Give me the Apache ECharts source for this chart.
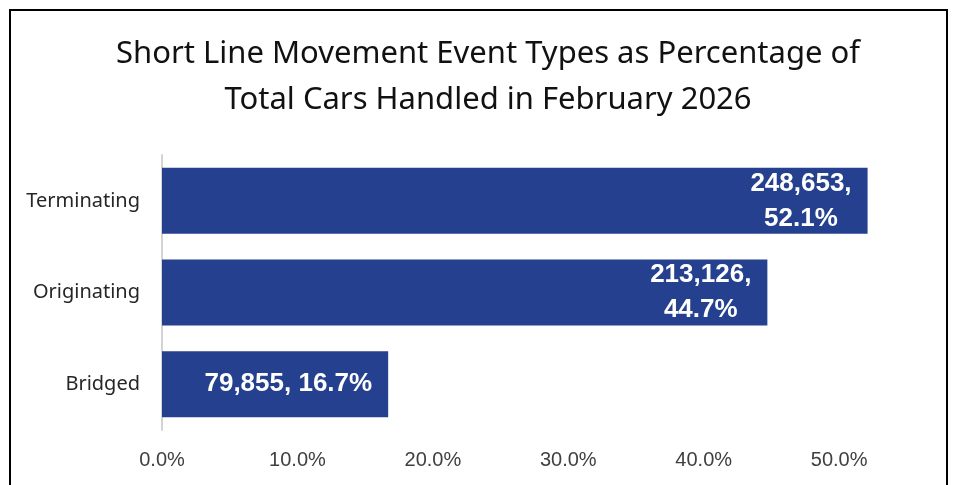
<!DOCTYPE html>
<html>
<head>
<meta charset="utf-8">
<script src="https://cdn.jsdelivr.net/npm/echarts@6/dist/echarts.min.js"></script>
<style>
html,body{margin:0;padding:0;background:#fff;}
#chart{width:956px;height:485px;}
</style>
</head>
<body>
<div id="chart"></div>
<script>
const categories = ['Terminating', 'Originating', 'Bridged'];
const carCounts = [248653, 213126, 79855];
const percentages = [0.521, 0.447, 0.167];
const tickLabels = ['0.0%', '10.0%', '20.0%', '30.0%', '40.0%', '50.0%'];
const titleText = 'Short Line Movement Event Types as Percentage of\nTotal Cars Handled in February 2026';

const chart = echarts.init(document.getElementById('chart'));
const fmtCount = n => n.toLocaleString('en-US');
const fmtPct = p => (p * 100).toFixed(1) + '%';

chart.setOption({
  animation: false,
  backgroundColor: '#ffffff',
  graphic: [{
    type: 'rect',
    shape: { x: 10, y: 10, width: 937, height: 500 },
    style: { fill: 'none', stroke: '#000000', lineWidth: 2 },
    silent: true
  }, {
    type: 'text',
    x: 488,
    y: 31,
    silent: true,
    style: {
      text: titleText,
      align: 'center',
      verticalAlign: 'top',
      fontFamily: 'Noto Sans',
      fontSize: 31,
      fontWeight: 'normal',
      fill: '#111111',
      lineHeight: 46
    }
  }],
  grid: { left: 162, right: 83, top: 155, bottom: 55, containLabel: false },
  xAxis: {
    type: 'value',
    min: 0,
    max: 0.525,
    interval: 0.1,
    axisLine: { show: false },
    axisTick: { show: false },
    splitLine: { show: false },
    axisLabel: {
      showMaxLabel: false,
      margin: 20,
      fontFamily: 'Liberation Sans',
      fontSize: 20,
      color: '#404040',
      formatter: v => tickLabels[Math.round(v * 10)] || ''
    }
  },
  yAxis: {
    type: 'category',
    data: categories,
    inverse: true,
    axisLine: { show: true, lineStyle: { color: '#D4D4D4', width: 2 } },
    axisTick: { show: false },
    axisLabel: {
      margin: 22,
      fontFamily: 'Noto Sans',
      fontSize: 20,
      color: '#262626'
    }
  },
  series: [{
    type: 'bar',
    data: percentages,
    barCategoryGap: '28%',
    itemStyle: { color: '#24408E' },
    label: {
      show: true,
      position: 'insideRight',
      distance: 16,
      formatter: p => {
        const c = fmtCount(carCounts[p.dataIndex]);
        const v = fmtPct(p.value);
        return p.dataIndex < 2 ? '{c|' + c + ',}\n{c|' + v + '}' : '{c|' + c + ', ' + v + '}';
      },
      rich: {
        c: {
          align: 'center',
          fontFamily: 'Liberation Sans',
          fontWeight: 'bold',
          fontSize: 26,
          lineHeight: 35,
          color: '#ffffff'
        }
      }
    }
  }]
});
</script>
</body>
</html>
